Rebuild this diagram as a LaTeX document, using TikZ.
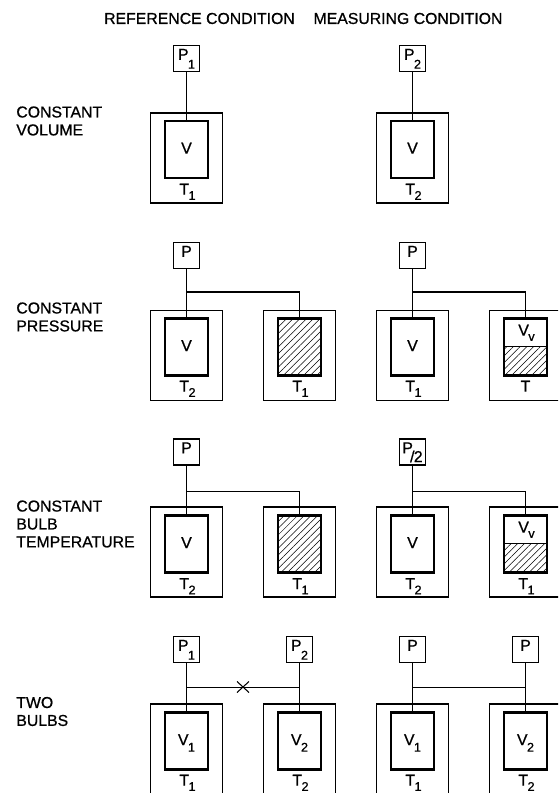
\documentclass[tikz,border=0pt]{standalone}
\usepackage{fontspec}
\setmainfont[FakeBold=0.8]{Liberation Sans}
\usetikzlibrary{patterns.meta}
\newcommand{\lowidx}[2][3pt]{\kern-0.3pt\raisebox{-#1}{\fontsize{7.2}{8}\selectfont #2}}
\tikzset{
  gauge/.style={draw,line width=0.6pt,minimum width=0.52cm,minimum height=0.52cm,inner sep=0pt,outer sep=0pt,text height=6pt,text depth=4.5pt,font=\fontsize{9}{10}\selectfont},
  vessel/.style={draw,line width=0.6pt,minimum width=1.43cm,minimum height=1.8cm,inner sep=0pt,outer sep=0pt},
  bulb/.style={draw,line width=1.2pt,minimum width=0.87cm,minimum height=1.14cm,inner sep=0pt,outer sep=0pt,text height=6.4pt,text depth=1.7pt,font=\fontsize{9}{10}\selectfont},
  templabel/.style={inner sep=0pt,text height=6.4pt,text depth=0pt,font=\fontsize{9}{10}\selectfont},
  rowlabel/.style={inner sep=0pt,align=left,anchor=west,font=\fontsize{9}{10.2}\selectfont},
  headlabel/.style={inner sep=0pt,font=\fontsize{9}{10}\selectfont},
  hatch/.style={pattern={Lines[angle=45,distance=2.7pt,line width=0.3pt]}},
  pipe/.style={line width=0.6pt}
}
\begin{document}
\begin{tikzpicture}[x=0.02cm,y=-0.02cm]
  \useasboundingbox (0,0) rectangle (558,793);
  \clip (0,0) rectangle (558,792);
  % headers
  \node[headlabel] (headref) at (199.5,18.5) {REFERENCE CONDITION};
  \node[headlabel] (headmeas) at (408,18.5) {MEASURING CONDITION};
  % constant volume
  \node[rowlabel] (rowvol) at (16,121) {CONSTANT\\VOLUME};
  \node[gauge] (pa) at (186.5,58.5) {P\lowidx[5pt]{1}};
  \node[vessel] (va) at (186.5,158) {};
  \node[bulb] (ba) at (186.5,149.5) {V};
  \node[templabel] (ta) at (187.5,189) {T\lowidx{1}};
  \draw[pipe] (pa.south)--(ba.north);
  \node[gauge] (pb) at (412.5,58.5) {P\lowidx[5pt]{2}};
  \node[vessel] (vb) at (412.5,158) {};
  \node[bulb] (bb) at (412.5,149.5) {V};
  \node[templabel] (tb) at (413.5,189) {T\lowidx{2}};
  \draw[pipe] (pb.south)--(bb.north);
  % constant pressure
  \node[rowlabel] (rowpre) at (16,317) {CONSTANT\\PRESSURE};
  \node[gauge] (pc) at (186.5,255.5) {P};
  \node[vessel] (vc) at (186.5,355.5) {};
  \node[bulb] (bc) at (186.5,347) {V};
  \node[templabel] (tc) at (187.5,386) {T\lowidx{2}};
  \node[vessel] (vd) at (299.5,355.5) {};
  \node[bulb,hatch] (bd) at (299.5,347) {};
  \node[templabel] (td) at (300.5,386) {T\lowidx{1}};
  \coordinate (jc) at (186.5,292);
  \draw[pipe] (pc.south)--(bc.north);
  \draw[pipe] (jc)-|(bd.north);
  \node[gauge] (pe) at (412.5,255.5) {P};
  \node[vessel] (ve) at (412.5,355.5) {};
  \node[bulb] (be) at (412.5,347) {V};
  \node[templabel] (te) at (413.5,386) {T\lowidx{1}};
  \node[vessel] (vf) at (525.5,355.5) {};
  \fill[hatch] (504,347) rectangle (547,375);
  \node[bulb] (bf) at (525.5,347) {};
  \draw[pipe] (bf.west|-525.5,346.5)--(bf.east|-525.5,346.5);
  \node[templabel] (vvf) at (526.5,330) {V\lowidx{v}};
  \node[templabel] (tf) at (525.5,386) {T};
  \coordinate (je) at (412.5,292);
  \draw[pipe] (pe.south)--(be.north);
  \draw[pipe] (je)-|(bf.north);
  % constant bulb temperature
  \node[rowlabel] (rowtem) at (16,524) {CONSTANT\\BULB\\TEMPERATURE};
  \node[gauge] (pg) at (186.5,452) {P};
  \node[vessel] (vg) at (186.5,552) {};
  \node[bulb] (bg) at (186.5,544) {V};
  \node[templabel] (tg) at (187.5,583.5) {T\lowidx{2}};
  \node[vessel] (vh) at (299.5,552) {};
  \node[bulb,hatch] (bh) at (299.5,544) {};
  \node[templabel] (th) at (300.5,583.5) {T\lowidx{1}};
  \coordinate (jg) at (186.5,491.5);
  \draw[pipe] (pg.south)--(bg.north);
  \draw[pipe] (jg)-|(bh.north);
  \node[gauge] (pi) at (412.5,452) {P\raisebox{-5pt}{\kern-1.6pt/\kern-0.4pt2}};
  \node[vessel] (vi) at (412.5,552) {};
  \node[bulb] (bi) at (412.5,544) {V};
  \node[templabel] (ti) at (413.5,583.5) {T\lowidx{2}};
  \node[vessel] (vj) at (525.5,552) {};
  \fill[hatch] (504,543.5) rectangle (547,572);
  \node[bulb] (bj) at (525.5,544) {};
  \draw[pipe] (bj.west|-525.5,543.5)--(bj.east|-525.5,543.5);
  \node[templabel] (vvj) at (526.5,527) {V\lowidx{v}};
  \node[templabel] (tj) at (526.5,583.5) {T\lowidx{1}};
  \coordinate (ji) at (412.5,491.5);
  \draw[pipe] (pi.south)--(bi.north);
  \draw[pipe] (ji)-|(bj.north);
  % two bulbs
  \node[rowlabel] (rowtwo) at (16,711.5) {TWO\\BULBS};
  \node[gauge] (pk) at (186.5,649.5) {P\lowidx[5pt]{1}};
  \node[vessel] (vk) at (186.5,749) {};
  \node[bulb] (bk) at (186.5,741) {V\lowidx[3.7pt]{1}};
  \node[templabel] (tk) at (187.5,780) {T\lowidx{1}};
  \node[gauge] (pl) at (299.5,649.5) {P\lowidx[5pt]{2}};
  \node[vessel] (vl) at (299.5,749) {};
  \node[bulb] (bl) at (299.5,741) {V\lowidx[3.7pt]{2}};
  \node[templabel] (tl) at (300.5,780) {T\lowidx{2}};
  \coordinate (jk) at (186.5,687.5);
  \coordinate (jl) at (299.5,687.5);
  \draw[pipe] (pk.south)--(bk.north);
  \draw[pipe] (pl.south)--(bl.north);
  \draw[pipe] (jk)--(jl);
  \draw[pipe] (237,681.5)--(249,692.5);
  \draw[pipe] (237,692.5)--(249,681.5);
  \node[gauge] (pm) at (412.5,649.5) {P};
  \node[vessel] (vm) at (412.5,749) {};
  \node[bulb] (bm) at (412.5,741) {V\lowidx[3.7pt]{1}};
  \node[templabel] (tm) at (413.5,780) {T\lowidx{1}};
  \node[gauge] (pn) at (525.5,649.5) {P};
  \node[vessel] (vn) at (525.5,749) {};
  \node[bulb] (bn) at (525.5,741) {V\lowidx[3.7pt]{2}};
  \node[templabel] (tn) at (526.5,780) {T\lowidx{2}};
  \coordinate (jm) at (412.5,687.5);
  \coordinate (jn) at (525.5,687.5);
  \draw[pipe] (pm.south)--(bm.north);
  \draw[pipe] (pn.south)--(bn.north);
  \draw[pipe] (jm)--(jn);
\end{tikzpicture}
\end{document}
